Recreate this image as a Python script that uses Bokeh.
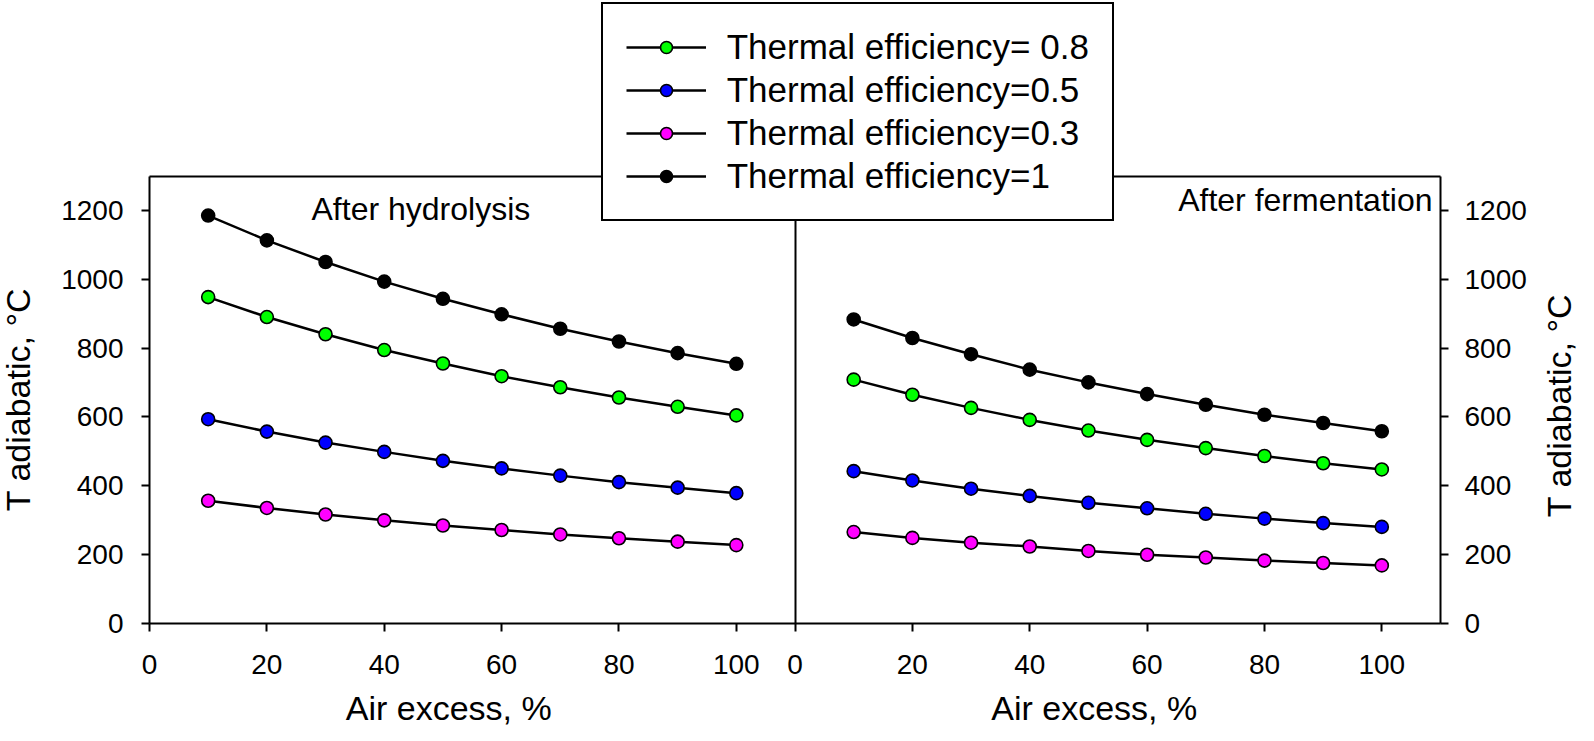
import math
from bokeh.plotting import figure
from bokeh.models import Range1d, LinearAxis, FixedTicker, Label, Legend, LegendItem
from bokeh.embed import file_html
from bokeh.resources import INLINE

# ---------------- data ----------------
air_excess = [10, 20, 30, 40, 50, 60, 70, 80, 90, 100]

hyd_eff_08 = [948, 890, 840, 794, 755, 718, 686, 656, 629, 604]
hyd_eff_05 = [593, 557, 525, 498, 472, 450, 429, 410, 394, 378]
hyd_eff_03 = [356, 335, 316, 299, 284, 271, 258, 247, 237, 227]
hyd_eff_1 = [1185, 1113, 1050, 993, 943, 898, 856, 819, 785, 754]

ferm_eff_08 = [708, 664, 626, 591, 560, 533, 509, 486, 465, 447]
ferm_eff_05 = [442, 415, 391, 370, 350, 334, 318, 304, 291, 280]
ferm_eff_03 = [265, 248, 234, 223, 210, 199, 191, 182, 175, 168]
ferm_eff_1 = [883, 829, 782, 737, 700, 666, 635, 606, 582, 558]

series_labels = ["Thermal efficiency= 0.8", "Thermal efficiency=0.5",
                 "Thermal efficiency=0.3", "Thermal efficiency=1"]
series_colors = ["#00ff00", "#0000ff", "#ff00ff", "#000000"]
hyd_series = [hyd_eff_08, hyd_eff_05, hyd_eff_03, hyd_eff_1]
ferm_series = [ferm_eff_08, ferm_eff_05, ferm_eff_03, ferm_eff_1]

x_ticks = [0, 20, 40, 60, 80, 100, 110, 130, 150, 170, 190, 210]
x_tick_labels = ["0", "20", "40", "60", "80", "100", "0", "20", "40", "60", "80", "100"]
y_ticks = [0, 200, 400, 600, 800, 1000, 1200]

FONT = "Liberation Sans"

# ---------------- layout (pixels) ----------------
W, H = 1578, 725
FRAME_L, FRAME_R = 149.0, 1440.0     # pixel x of the panels' left / right edges
FRAME_T, FRAME_B = 175.5, 622.7      # pixel y of the panels' top / bottom edges
X_SPAN, Y_SPAN = 220.0, 1300.0       # two panels of 0..110, y 0..1300
xs = (FRAME_R - FRAME_L) / X_SPAN
ys = (FRAME_B - FRAME_T) / Y_SPAN


def dx(px):
    return (px - FRAME_L) / xs


def dy(py):
    return (FRAME_B - py) / ys


p = figure(width=W, height=H, output_backend="svg", toolbar_location=None,
           x_range=Range1d(dx(0), dx(W)), y_range=Range1d(dy(H), dy(0)),
           x_axis_type=None, y_axis_type=None,
           min_border_left=0, min_border_right=0, min_border_top=0, min_border_bottom=0)
p.extra_x_ranges = {"right": Range1d(dx(0) - 110, dx(W) - 110)}
p.outline_line_color = None
p.background_fill_color = "white"
p.border_fill_color = "white"
p.xgrid.visible = False
p.ygrid.visible = False


def style_axis(ax, standoff):
    ax.axis_line_width = 2
    ax.axis_line_color = "black"
    ax.major_tick_line_width = 2
    ax.major_tick_line_color = "black"
    ax.major_tick_out = 8
    ax.major_tick_in = 0
    ax.minor_tick_line_color = None
    ax.major_label_text_font = FONT
    ax.major_label_text_font_size = "28px"
    ax.major_label_text_color = "black"
    ax.major_label_standoff = standoff


def plain_axis(ax):
    ax.axis_line_width = 2
    ax.axis_line_color = "black"
    ax.major_tick_line_color = None
    ax.minor_tick_line_color = None
    ax.major_label_text_font_size = "0px"


xax = LinearAxis(ticker=FixedTicker(ticks=x_ticks), fixed_location=0, bounds=(0, 220))
xax.major_label_overrides = {t: s for t, s in zip(x_ticks, x_tick_labels)}
style_axis(xax, 24)
p.add_layout(xax, "below")

yl = LinearAxis(ticker=FixedTicker(ticks=y_ticks), fixed_location=0, bounds=(0, 1300))
style_axis(yl, 18)
p.add_layout(yl, "left")

yr = LinearAxis(ticker=FixedTicker(ticks=y_ticks), fixed_location=220, bounds=(0, 1300))
style_axis(yr, 16)
p.add_layout(yr, "right")

top = LinearAxis(ticker=FixedTicker(ticks=[]), fixed_location=1300, bounds=(0, 220))
plain_axis(top)
p.add_layout(top, "above")

mid = LinearAxis(ticker=FixedTicker(ticks=[]), fixed_location=110, bounds=(0, 1300))
plain_axis(mid)
p.add_layout(mid, "left")

# ---------------- data glyphs ----------------
legend_items = []
for lab, col, hy, fe in zip(series_labels, series_colors, hyd_series, ferm_series):
    l1 = p.line(air_excess, hy, line_color="black", line_width=2.5)
    s1 = p.scatter(air_excess, hy, size=13, marker="circle", fill_color=col,
                   line_color="black", line_width=1.6)
    p.line(air_excess, fe, line_color="black", line_width=2.5, x_range_name="right")
    p.scatter(air_excess, fe, size=13, marker="circle", fill_color=col,
              line_color="black", line_width=1.6, x_range_name="right")
    legend_items.append(LegendItem(label=lab, renderers=[l1, s1]))

# ---------------- texts ----------------
p.add_layout(Label(x=dx(311), y=dy(208.5), text="After  hydrolysis", text_font=FONT,
                   text_font_size="32px", text_color="black", text_baseline="middle"))
p.add_layout(Label(x=dx(1432), y=dy(199), text="After fermentation",
                   text_font=FONT, text_font_size="32px", text_color="black",
                   text_align="right", text_baseline="middle"))

for xr in ("default", "right"):
    p.add_layout(Label(x=51, y=dy(707), x_range_name=xr,
                       text="Air excess, %", text_font=FONT, text_font_size="34px",
                       text_color="black", text_align="center", text_baseline="middle"))

p.add_layout(Label(x=dx(17.5), y=dy(399), angle=math.pi / 2,
                   text="T adiabatic, °C", text_font=FONT, text_font_size="34px",
                   text_color="black", text_align="center", text_baseline="middle"))
p.add_layout(Label(x=dx(1558), y=dy(405), angle=math.pi / 2,
                   text="T adiabatic, °C", text_font=FONT, text_font_size="34px",
                   text_color="black", text_align="center", text_baseline="middle"))

# ---------------- legend ----------------
legend = Legend(items=legend_items, location=(600.7, H - 221), orientation="vertical",
                label_text_font=FONT, label_text_font_size="35px", label_text_color="black",
                glyph_width=80, glyph_height=30, label_standoff=21, label_width=362,
                spacing=3, padding=23,
                margin=0, border_line_color="black", border_line_width=2,
                border_line_alpha=1.0,
                background_fill_color="white", background_fill_alpha=1.0)
p.add_layout(legend)

open("out.html", "w").write(file_html(p, INLINE))
